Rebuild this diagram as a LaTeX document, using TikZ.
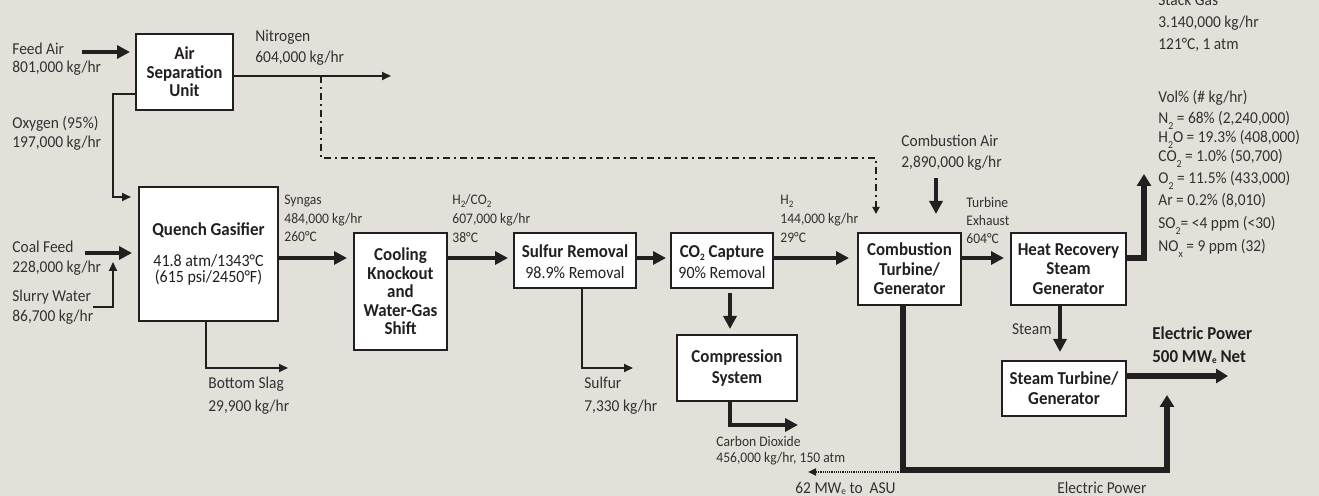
\documentclass[tikz,border=0pt]{standalone}
\usepackage{fontspec}
\setmainfont{Carlito}[FakeStretch=0.93]
\usetikzlibrary{arrows.meta,calc}
\definecolor{bg}{HTML}{E3DFD9}
\definecolor{ink}{HTML}{231F20}
\definecolor{txt}{HTML}{333132}
\newcommand\fn{\fontsize{8.3pt}{9pt}\selectfont}
\newcommand\fsm{\fontsize{7.3pt}{8pt}\selectfont}
\newcommand\fbx{\fontsize{9.1pt}{9.25pt}\selectfont\bfseries}
\newcommand\fbr{\fontsize{8.6pt}{9pt}\selectfont}
\newcommand\sbs[1]{\raisebox{-0.35ex}{\fontsize{4.9pt}{5pt}\selectfont #1}}
\newcommand\sbl[1]{\raisebox{-0.75ex}{\fontsize{5.3pt}{5pt}\selectfont #1}}
\newcommand\sbe[1]{\raisebox{-0.1ex}{\fontsize{4.9pt}{5pt}\selectfont #1}}
\begin{document}
\begin{tikzpicture}[x=0.5pt,y=-0.5pt,
  box/.style={draw=ink,fill=white,line width=1pt,align=center,inner sep=0pt,font=\fbx,text=ink},
  intxt/.style={anchor=base,inner sep=0pt,text=ink},
  lbl/.style={anchor=base west,inner sep=0pt,font=\fn,text=txt},
  lbs/.style={lbl,font=\fsm},
  thk/.style={draw=ink,line width=2pt,-{Triangle[length=6.5pt,width=6.5pt]}},
  thk3/.style={draw=ink,line width=3pt,-{Triangle[length=6pt,width=7pt]}},
  thn/.style={draw=ink,line width=1pt,-{Triangle[length=4.5pt,width=4pt]}},
  ddot/.style={draw=ink,line width=1pt,dash pattern=on 3.5pt off 2pt on 1pt off 2pt,-{Triangle[length=3.5pt,width=3.5pt]}},
  dotar/.style={draw=ink,line width=1pt,dash pattern=on 0.6pt off 0.5pt,-{Triangle[length=4pt,width=3.5pt]}}
]
\fill[bg] (0,0) rectangle (1319,496);
\useasboundingbox (0,0) rectangle (1319,496);

% ---------- boxes ----------
\node[box,minimum width=48.5pt,minimum height=38pt] (asu) at (184.5,72) {Air\\Separation\\Unit};
\node[box,minimum width=69.5pt,minimum height=67pt] (gas) at (208.5,254) {};
\node[intxt,font=\fbx] (gas1) at (208.5,236) {Quench Gasifier};
\node[intxt,font=\fbr] (gas2) at (208.5,267) {41.8 atm/1343°C};
\node[intxt,font=\fbr] (gas3) at (208.5,283) {(615 psi/2450°F)};
\node[box,minimum width=46.5pt,minimum height=58.5pt] (cool) at (400.5,291.5) {Cooling\\Knockout\\and\\Water-Gas\\Shift};
\node[box,minimum width=61pt,minimum height=27.5pt] (sr) at (575,260.5) {};
\node[intxt,font=\fbx] (sr1) at (575,257.5) {Sulfur Removal};
\node[intxt,font=\fbr] (sr2) at (575,279) {98.9\% Removal};
\node[box,minimum width=51pt,minimum height=27.5pt] (cc) at (722,260.5) {};
\node[intxt,font=\fbx] (cc1) at (722,257.5) {CO\sbs{2} Capture};
\node[intxt,font=\fbr] (cc2) at (722,279) {90\% Removal};
\node[box,minimum width=60pt,minimum height=33pt,font={\fontsize{9.1pt}{10.5pt}\selectfont\bfseries}] (comp) at (737,368) {Compression\\System};
\node[box,minimum width=51.5pt,minimum height=36pt,font={\fontsize{9.1pt}{9.75pt}\selectfont\bfseries}] (ct) at (909.5,269) {Combustion\\Turbine/\\Generator};
\node[box,minimum width=57.5pt,minimum height=36pt,font={\fontsize{9.1pt}{9.75pt}\selectfont\bfseries}] (hrsg) at (1068.5,269) {Heat Recovery\\Steam\\Generator};
\node[box,minimum width=62pt,minimum height=27.5pt,font={\fontsize{9.1pt}{10pt}\selectfont\bfseries}] (st) at (1064,388.5) {Steam Turbine/\\Generator};

% ---------- connectors ----------
\coordinate (fa) at (82,52);
\draw[thk] (fa) -- ($(asu.west|-fa)+(-5,0)$);
\coordinate (n2end) at (391,76);
\draw[thn] (asu.east|-n2end) -- (n2end);
\coordinate (n2tap) at (321,76);
\draw[ddot] (n2tap) -- ($(ct.north)+(-588.5,-74)$) -- ($(ct.north)+(-33.5,-74)$) -- ($(ct.north)+(-33.5,-18)$);
\coordinate (oxc) at (113,94);
\draw[thn] (asu.west|-oxc) -- (oxc) |- ($(gas.west)+(-7,-57)$);
\coordinate (coal) at (85,253);
\draw[thk] (coal) -- ($(gas.west|-coal)+(-6,0)$);
\coordinate (sw) at (93,307);
\coordinate (swc) at (113,307);
\coordinate (swt) at (113,262);
\draw[thn] (sw) -- (swc) -- (swt);
\coordinate (slag) at (288,368);
\draw[thn] ([xshift=-1.25pt]gas.south) |- (slag);
\coordinate (ml) at (0,258);
\draw[thk] (gas.east|-ml) -- ($(cool.west|-ml)+(-6,0)$);
\draw[thk] (cool.east|-ml) -- ($(sr.west|-ml)+(-5,0)$);
\draw[thk] (sr.east|-ml) -- ($(cc.west|-ml)+(-4,0)$);
\draw[thk] (cc.east|-ml) -- ($(ct.west|-ml)+(-8,0)$);
\draw[thk] (ct.east|-ml) -- ($(hrsg.west|-ml)+(-6,0)$);
\coordinate (cx) at (730,0);
\draw[thk] ($(cc.south-|cx)+(0,4)$) -- ($(comp.north-|cx)+(0,-5)$);
\coordinate (sx) at (582,0);
\coordinate (sulf) at (633,368);
\draw[thn] (sr.south-|sx) |- (sulf);
\coordinate (co2o) at (798,425);
\draw[thk] (comp.south-|cx) |- (co2o);
\coordinate (ca) at (936,178);
\draw[thk] (ca) -- ($(ct.north-|ca)+(0,-18)$);
\coordinate (cty) at (903,470);
\draw[thk3] (ct.south-|cty) -- (cty) -| ($(st.east)+(40,6.5)$);
\coordinate (asu62) at (808,472);
\draw[dotar] (cty|-asu62) -- (asu62);
\coordinate (ep) at (1228,376);
\draw[thk3] (st.east|-ep) -- (ep);
\coordinate (stk) at (1144,174);
\draw[thk3] (hrsg.east|-ml) -| (stk);
\coordinate (stx) at (1060,0);
\draw[thk] (hrsg.south-|stx) -- ($(st.north-|stx)+(0,-8)$);

% ---------- labels ----------
\node[lbl] (l1) at (12,55) {Feed Air};
\node[lbl] (l2) at (12,73) {801,000 kg/hr};
\node[lbl] (l3) at (12,129) {Oxygen (95\%)};
\node[lbl] (l4) at (12,148) {197,000 kg/hr};
\node[lbl] (l5) at (12,253) {Coal Feed};
\node[lbl] (l6) at (12,273) {228,000 kg/hr};
\node[lbl] (l7) at (12,302) {Slurry Water};
\node[lbl] (l8) at (12,322) {86,700 kg/hr};
\node[lbl] (l9) at (255,42) {Nitrogen};
\node[lbl] (l10) at (255,63) {604,000 kg/hr};
\node[lbl] (l11) at (208,389) {Bottom Slag};
\node[lbl] (l12) at (208,412) {29,900 kg/hr};
\node[lbl] (l13) at (584,389) {Sulfur};
\node[lbl] (l14) at (584,412) {7,330 kg/hr};
\node[lbs] (s1) at (284,205) {Syngas};
\node[lbs] (s2) at (284,224) {484,000 kg/hr};
\node[lbs] (s3) at (284,242) {260°C};
\node[lbs] (h1) at (452,205) {H\sbs{2}/CO\sbs{2}};
\node[lbs] (h2) at (452,224) {607,000 kg/hr};
\node[lbs] (h3) at (452,243) {38°C};
\node[lbs] (k1) at (780,205) {H\sbs{2}};
\node[lbs] (k2) at (780,224) {144,000 kg/hr};
\node[lbs] (k3) at (780,243) {29°C};
\node[lbs] (t1) at (966,208) {Turbine};
\node[lbs] (t2) at (966,226) {Exhaust};
\node[lbs] (t3) at (966,244) {604°C};
\node[lbs] (c1) at (716,447) {Carbon Dioxide};
\node[lbs] (c2) at (716,463) {456,000 kg/hr, 150 atm};
\node[lbl] (a1) at (901,147) {Combustion Air};
\node[lbl] (a2) at (901,168) {2,890,000 kg/hr};
\node[lbl,anchor=base east] (stm) at (1052,335) {Steam};
\node[lbl] (g1) at (1158,6) {Stack Gas};
\node[lbl] (g2) at (1158,28) {3.140,000 kg/hr};
\node[lbl] (g3) at (1158,50) {121°C, 1 atm};
\node[lbl] (v0) at (1158,103) {Vol\% (\# kg/hr)};
\node[lbl] (v1) at (1158,124) {N\sbl{2} = 68\% (2,240,000)};
\node[lbl] (v2) at (1158,143) {H\sbl{2}O = 19.3\% (408,000)};
\node[lbl] (v3) at (1158,162) {CO\sbl{2} = 1.0\% (50,700)};
\node[lbl] (v4) at (1158,184) {O\sbl{2} = 11.5\% (433,000)};
\node[lbl] (v5) at (1158,206) {Ar = 0.2\% (8,010)};
\node[lbl] (v6) at (1158,229) {SO\sbl{2}= <4 ppm (<30)};
\node[lbl] (v7) at (1158,252) {NO\sbl{x} = 9 ppm (32)};
\node[lbl,font=\fbx,text=ink] (e1) at (1152,340) {Electric Power};
\node[lbl,font=\fbx,text=ink] (e2) at (1152,363) {500 MW\sbe{e} Net};
\node[lbl] (e3) at (795,493.5) {62 MW\sbe{e} to~~ASU};
\node[lbl] (e4) at (1057,493.5) {Electric Power};
\end{tikzpicture}
\end{document}
